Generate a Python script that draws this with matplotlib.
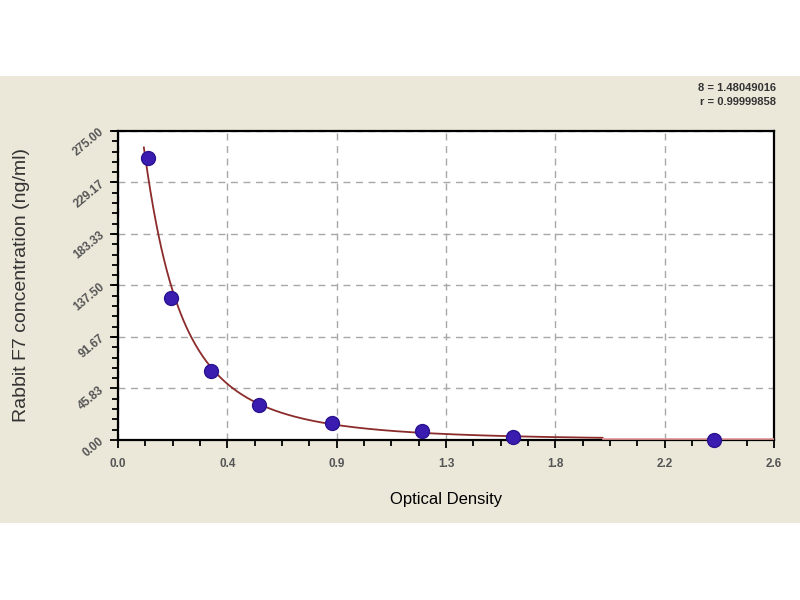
import matplotlib.pyplot as plt
import numpy as np
from matplotlib.patches import Rectangle
from matplotlib.ticker import AutoMinorLocator, FixedLocator

# .. Standard points.
od = [0.121, 0.213, 0.374, 0.567, 0.861, 1.223, 1.59, 2.40]
conc = [251.0, 126.4, 61.4, 31.2, 15.1, 8.0, 2.7, 0.0]

x_ticks = [0.0, 0.44, 0.88, 1.32, 1.76, 2.2, 2.64]
x_labels = ["0.0", "0.4", "0.9", "1.3", "1.8", "2.2", "2.6"]
y_ticks = [0.0, 45.83, 91.67, 137.50, 183.33, 229.17, 275.00]
y_labels = ["0.00", "45.83", "91.67", "137.50", "183.33", "229.17", "275.00"]

fit_text = ["8 = 1.48049016", "r = 0.99999858"]

plt.rcParams["font.family"] = ["Liberation Sans", "DejaVu Sans"]

fig = plt.figure(figsize=(8, 6), dpi=100)
fig.patch.set_facecolor("white")
fig.patches.append(
    Rectangle((0, 0.128), 1, 0.745, transform=fig.transFigure,
              facecolor="#ebe7d9", edgecolor="none", zorder=-10)
)

ax = fig.add_axes([0.1475, 0.2667, 0.82, 0.515])
ax.set_facecolor("white")

# .. Fitted curve (log-log quadratic through the standards).
xs = np.array(od[:-1])
ys = np.array(conc[:-1])
coef = np.polyfit(np.log(xs), np.log(ys), 2)
x_fit = np.linspace(0.104, 1.95, 500)
y_fit = np.exp(np.polyval(coef, np.log(x_fit)))
keep = y_fit < 287
ax.plot(x_fit[keep], y_fit[keep], color="#8b2b2b", lw=1.3,
        clip_on=False, zorder=3)
ax.plot([1.95, 2.64], [0.6, 0.6], color="#e89a9a", lw=1.2, zorder=3)

ax.plot(od, conc, "o", color="#3a1db0", markersize=10,
        markeredgecolor="#2a1290", clip_on=False, zorder=4)

ax.set_xlim(0, 2.64)
ax.set_ylim(0, 275)
ax.xaxis.set_major_locator(FixedLocator(x_ticks))
ax.yaxis.set_major_locator(FixedLocator(y_ticks))
ax.set_xticklabels(x_labels)
ax.set_yticklabels(y_labels, rotation=40, ha="right", va="center",
                   rotation_mode="anchor")
ax.xaxis.set_minor_locator(AutoMinorLocator(4))
ax.yaxis.set_minor_locator(AutoMinorLocator(5))
ax.tick_params(which="major", length=6, width=1.3, labelsize=8.5,
               colors="black", labelcolor="#555555")
ax.tick_params(which="minor", length=4, width=1.3)
ax.tick_params(axis="x", pad=7)
ax.tick_params(axis="y", pad=5)
for lbl in ax.get_xticklabels() + ax.get_yticklabels():
    lbl.set_fontweight("bold")

for side in ["top", "right", "left", "bottom"]:
    ax.spines[side].set_linewidth(1.6)
    ax.spines[side].set_color("black")

ax.grid(True, which="major", color="#a8a8a8", linestyle=(0, (5, 4)),
        linewidth=1.0)

ax.set_xlabel("Optical Density", fontsize=12, labelpad=16)
ax.set_ylabel("Rabbit F7 concentration (ng/ml)", fontsize=14,
              labelpad=30, color="#333333")

fig.text(0.97, 0.842, "\n".join(fit_text), ha="right", va="center",
         fontsize=8, fontweight="bold", color="#333333", linespacing=1.5)

fig.savefig("out.png", dpi=100, facecolor=fig.get_facecolor())
